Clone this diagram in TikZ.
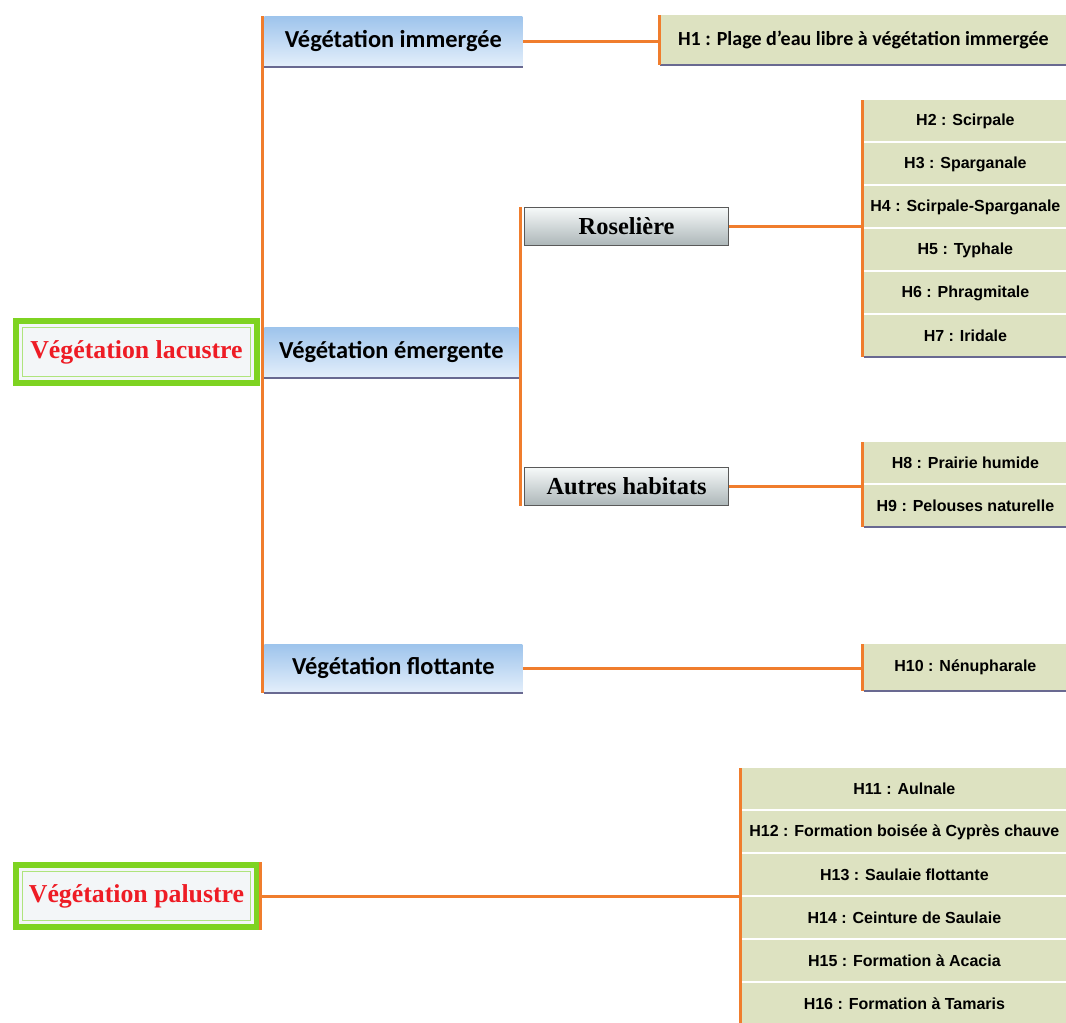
\documentclass[tikz,border=0pt]{standalone}
\usepackage{fontspec}
\newfontfamily\calibrifont{Carlito}
\newfontfamily\arialfont{Liberation Sans}
\newfontfamily\cambriafont{Liberation Serif}
\usepackage{tikz}
\usetikzlibrary{positioning, calc}

\definecolor{linkorange}{RGB}{240,125,45}
\definecolor{framegreen}{RGB}{126,211,33}
\definecolor{innergreen}{RGB}{175,228,125}
\definecolor{rootfill}{RGB}{243,246,248}
\definecolor{rootred}{RGB}{238,28,37}
\definecolor{habfill}{RGB}{221,226,193}
\definecolor{bluetop}{RGB}{158,196,236}
\definecolor{bluebot}{RGB}{228,239,251}
\definecolor{silvertop}{RGB}{246,249,249}
\definecolor{silverbot}{RGB}{172,182,184}
\definecolor{shadowline}{RGB}{105,105,145}

\tikzset{
  link/.style={linkorange, line width=1.5pt},
  shade line/.style={shadowline, line width=1pt},
  rootbox/.style={draw=framegreen, line width=3pt, fill=rootfill, anchor=north west,
    minimum width=120.5pt, minimum height=31pt, inner sep=0pt, text=rootred,
    font=\cambriafont\bfseries\fontsize{12.9}{14}\selectfont,
    path picture={\draw[innergreen, line width=0.6pt]
      ([shift={(3.2pt,-3.2pt)}]path picture bounding box.north west) rectangle
      ([shift={(-3.2pt,3.2pt)}]path picture bounding box.south east);}},
  groupbox/.style={top color=bluetop, bottom color=bluebot, anchor=north west,
    minimum width=129pt, minimum height=25pt, inner sep=0pt,
    font=\calibrifont\bfseries\fontsize{12.2}{14}\selectfont},
  subbox/.style={top color=silvertop, bottom color=silverbot, draw=black!65, line width=0.6pt,
    anchor=north west, minimum width=102pt, minimum height=19pt, inner sep=0pt,
    font=\cambriafont\bfseries\fontsize{12.2}{14}\selectfont},
  habbox/.style={fill=habfill, anchor=north west, minimum width=101pt,
    minimum height=20.5pt, inner sep=0pt,
    font=\arialfont\bfseries\fontsize{8}{9}\selectfont},
}

\begin{document}
\begin{tikzpicture}[x=0.5pt, y=-0.5pt]
\useasboundingbox (0,0) rectangle (1066,1023);

% roots
\node[rootbox] (lac) at (13,318) {Végétation lacustre};
\node[rootbox] (pal) at (13,862) {Végétation palustre};

% second level
\node[groupbox] (imm)  at (264,16)  {Végétation immergée};
\node[groupbox, minimum width=127pt] (emer) at (264,327) {Végétation émergente};
\node[groupbox, minimum height=24pt] (flot) at (264,644) {Végétation flottante};
\foreach \n in {imm,emer,flot}
  \draw[shade line] (\n.south west) -- (\n.south east);

% third level
\node[subbox] (ros) at (524,207) {Roselière};
\node[subbox] (aut) at (524,467) {Autres habitats};

% habitats
\node[habbox, minimum width=203pt, minimum height=24.5pt,
  font=\calibrifont\bfseries\fontsize{10}{12}\selectfont] (h1) at (660,15)
  {H1 : Plage d’eau libre à végétation immergée};
\foreach \i/\txt [count=\k from 0] in {2/{H2 : Scirpale}, 3/{H3 : Sparganale},
    4/{H4 : Scirpale-Sparganale}, 5/{H5 : Typhale}, 6/{H6 : Phragmitale}, 7/{H7 : Iridale}}
  \node[habbox] (h\i) at (864,100+43*\k) {\txt};
\foreach \i/\txt [count=\k from 0] in {8/{H8 : Prairie humide}, 9/{H9 : Pelouses naturelle}}
  \node[habbox] (h\i) at (864,442+43*\k) {\txt};
\node[habbox, minimum height=23pt] (h10) at (864,644) {H10 : Nénupharale};
\foreach \i/\txt [count=\k from 0] in {11/{H11 : Aulnale},
    12/{H12 : Formation boisée à Cyprès chauve}, 13/{H13 : Saulaie flottante},
    14/{H14 : Ceinture de Saulaie}, 15/{H15 : Formation à  Acacia},
    16/{H16 : Formation à Tamaris}}
  \node[habbox, minimum width=162pt] (h\i) at (742,768+43*\k) {\txt};
\foreach \n in {h1,h7,h9,h10}
  \draw[shade line] (\n.south west) -- (\n.south east);

% connectors
\draw[link] ([xshift=-1pt]imm.north west) -- ([xshift=-1pt]flot.south west);
\draw[link] ([xshift=-2pt]ros.north west) -- ([xshift=-2pt]aut.south west);
\draw[link] (imm.east) -- (imm.east -| h1.west);
\draw[link] ([xshift=-0.5pt]h1.north west) -- ([xshift=-0.5pt]h1.south west);
\draw[link] (ros.east) -- (ros.east -| h2.west);
\draw[link] ([xshift=-1pt]h2.north west) -- ([xshift=-1pt]h7.south west);
\draw[link] (aut.east) -- (aut.east -| h8.west);
\draw[link] ([xshift=-1pt]h8.north west) -- ([xshift=-1pt]h9.south west);
\draw[link] (flot.east) -- (flot.east -| h10.west);
\draw[link] ([xshift=-1pt]h10.north west) -- ([xshift=-1pt]h10.south west);
\draw[link] (pal.north east) -- (pal.south east);
\draw[link] (pal.east) -- (pal.east -| h11.west);
\draw[link] ([xshift=-1pt]h11.north west) -- ([xshift=-1pt]h16.south west);
\end{tikzpicture}
\end{document}
